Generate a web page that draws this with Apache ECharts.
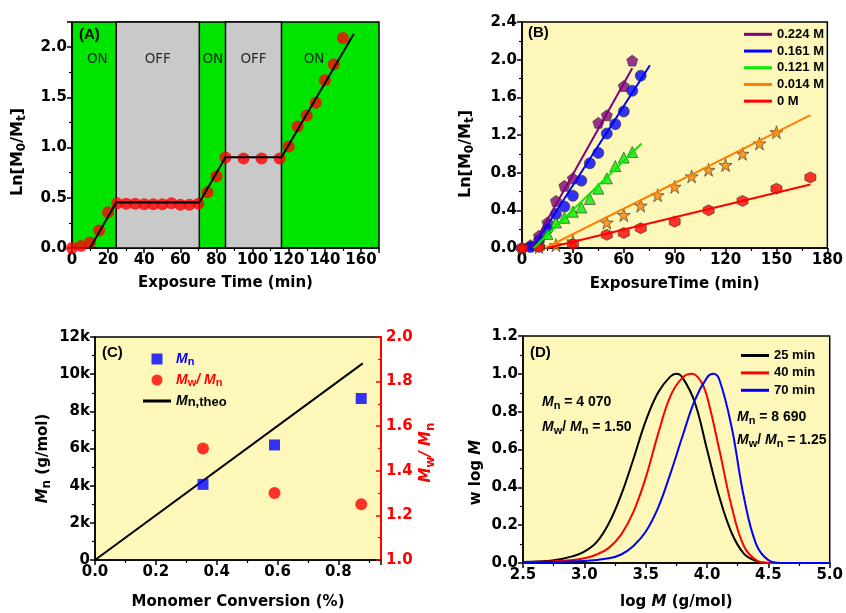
<!DOCTYPE html>
<html><head><meta charset="utf-8">
<script src="https://cdn.jsdelivr.net/npm/echarts@6/dist/echarts.min.js"></script>
<style>html,body{margin:0;padding:0;background:#fff}#c{width:846px;height:613px}</style>
</head><body><div id="c"></div>
<script>
// ---------- Panel A data ----------
const aTime = [0,5,10,15,20,25,30,35,40,45,50,55,60,65,70,75,80,85,95,105,115,120,125,130,135,140,145,150];
const aLn   = [0.00,0.02,0.055,0.175,0.355,0.445,0.44,0.44,0.435,0.435,0.435,0.445,0.43,0.43,0.44,0.555,0.715,0.90,0.89,0.89,0.89,1.01,1.21,1.32,1.445,1.67,1.83,2.09];
const aFitTime = [10,24.5,70.5,85,116,156];
const aFitLn   = [0,0.452,0.452,0.903,0.903,2.13];
const aOffStart = [24.5,85];
const aOffEnd   = [70.5,116];
const aPhaseText = ['ON','OFF','ON','OFF','ON'];
const aPhaseX    = [14,47.5,78,100.5,134];
const aPhaseY    = [1.88,1.88,1.88,1.88,1.88];
// ---------- Panel B data ----------
const bNames = ['0.224 M','0.161 M','0.121 M','0.014 M','0 M'];
const bT = [
  [0,5,10,15,20,25,30,45,50,60,65],
  [5,10,15,20,25,30,35,40,45,50,55,60,65,70],
  [10,15,20,25,30,35,40,45,50,55,60,65],
  [0,10,20,30,50,60,70,80,90,100,110,120,130,140,150],
  [0,10,30,50,60,70,90,110,130,150,170]
];
const bLn = [
  [0,0.03,0.13,0.27,0.50,0.66,0.74,1.33,1.41,1.72,1.99],
  [0.01,0.08,0.20,0.36,0.44,0.555,0.715,0.90,1.01,1.215,1.315,1.45,1.67,1.83],
  [0.04,0.15,0.27,0.32,0.385,0.43,0.52,0.63,0.74,0.87,0.96,1.02],
  [0,0.01,0.03,0.07,0.27,0.35,0.45,0.56,0.65,0.76,0.83,0.88,1.00,1.11,1.23],
  [0,0.01,0.04,0.14,0.16,0.21,0.28,0.40,0.50,0.63,0.75]
];
const bFitT  = [[5.7,65],[6.3,75.4],[6.8,70.5],[13.7,170],[15,170]];
const bFitLn = [[0,1.91],[0,1.94],[0,1.11],[0,1.41],[0,0.675]];
// ---------- Panel C data ----------
const cConv = [0.355,0.59,0.875];
const cMn   = [4070,6190,8690];
const cPdi  = [1.50,1.30,1.25];
const cTheoConv = [0,0.88];
const cTheoMn   = [0,10580];
// ---------- Panel D data ----------
const dNames = ['25 min','40 min','70 min'];
const dLogM = [
  [2.5,2.7,2.8,2.9,3.0,3.1,3.2,3.3,3.4,3.5,3.6,3.7,3.75,3.8,3.9,4.0,4.1,4.2,4.3,4.4,4.5,5.0],
  [2.5,2.8,3.0,3.1,3.2,3.3,3.4,3.5,3.6,3.7,3.8,3.88,3.95,4.0,4.1,4.2,4.3,4.4,4.5,5.0],
  [2.5,3.0,3.2,3.3,3.4,3.5,3.6,3.7,3.8,3.9,4.0,4.05,4.1,4.2,4.3,4.4,4.5,4.6,5.0]
];
const dW = [
  [0.005,0.01,0.02,0.035,0.06,0.11,0.21,0.36,0.55,0.75,0.90,0.985,1.0,0.98,0.85,0.60,0.35,0.16,0.05,0.01,0,0],
  [0.003,0.01,0.025,0.045,0.08,0.15,0.27,0.45,0.68,0.88,0.98,1.0,0.96,0.88,0.60,0.30,0.09,0.015,0,0],
  [0.002,0.01,0.025,0.045,0.09,0.165,0.29,0.47,0.67,0.86,0.98,1.0,0.97,0.72,0.35,0.10,0.015,0,0]
];

const zip = (a,b) => a.map((v,i)=>[v,b[i]]);
const TF = 'DejaVu Sans', LF = 'Liberation Sans';
const YEL = '#FDF8BA', GRN = '#00E500', GRY = '#C9C9C9';
const bColors = ['#800080','#0000FF','#00EE00','#FF8000','#FF0000'];
const bSymbols = [
  'path://M0,-1 L0.951,-0.309 L0.588,0.809 L-0.588,0.809 L-0.951,-0.309 Z',
  'circle','triangle',
  'path://M0,-1 L0.225,-0.309 L0.951,-0.309 L0.363,0.118 L0.588,0.809 L0,0.382 L-0.588,0.809 L-0.363,0.118 L-0.951,-0.309 L-0.225,-0.309 Z',
  'path://M0,-1 L0.866,-0.5 L0.866,0.5 L0,1 L-0.866,0.5 L-0.866,-0.5 Z'
];

function ax(o){
  const base = {
    type:'value', splitLine:{show:false},
    axisLine:{show:true, onZero:false, lineStyle:{color:'#000', width:1.5}},
    axisTick:{show:true, length:5, lineStyle:{color:'#000', width:1.5}},
    minorTick:{show:true, splitNumber:2, length:3, lineStyle:{color:'#000', width:1.2}},
    axisLabel:{fontFamily:TF, fontWeight:'bold', fontSize:15, color:'#000', margin:5, showMaxLabel:false},
    nameLocation:'middle',
    nameTextStyle:{fontFamily:TF, fontWeight:'bold', fontSize:15, color:'#000', lineHeight:20,
      rich:{ s:{fontFamily:TF, fontWeight:'bold', fontSize:12, verticalAlign:'bottom', lineHeight:13},
             i:{fontFamily:TF, fontWeight:'bold', fontStyle:'italic', fontSize:15, lineHeight:20} }}
  };
  return echarts.util.merge(base, o, true);
}
const f1 = v => v.toFixed(1);

const series = [];
// Panel A
series.push({type:'line', xAxisIndex:0, yAxisIndex:0, data:[], silent:true, z:1,
  markArea:{silent:true, itemStyle:{color:GRY, borderColor:'#000', borderWidth:1.5},
    data: aOffStart.map((s,i)=>[{xAxis:s},{xAxis:aOffEnd[i]}])}});
series.push({type:'scatter', xAxisIndex:0, yAxisIndex:0, data:zip(aTime,aLn), symbol:'circle', symbolSize:12,
  itemStyle:{color:'#FF0000'}, z:3});
series.push({type:'line', xAxisIndex:0, yAxisIndex:0, data:zip(aFitTime,aFitLn), symbol:'none',
  lineStyle:{color:'#000', width:2}, z:4});
series.push({type:'scatter', xAxisIndex:0, yAxisIndex:0, symbolSize:0, z:5,
  data: aPhaseX.map((x,i)=>({value:[x,aPhaseY[i]], name:aPhaseText[i]})),
  label:{show:true, position:'inside', formatter:p=>p.name, fontFamily:TF, fontSize:13.5, color:'#000'}});
// Panel B
bNames.forEach((n,k)=>{
  series.push({type:'scatter', name:'pts'+k, xAxisIndex:1, yAxisIndex:1, data:zip(bT[k],bLn[k]),
    symbol:bSymbols[k], symbolSize: k===3?13:11, itemStyle:{color:bColors[k], borderColor:'#333', borderWidth:0.8}, z:3});
  series.push({type:'line', name:n, xAxisIndex:1, yAxisIndex:1, data:zip(bFitT[k],bFitLn[k]), symbol:'none',
    lineStyle:{color:bColors[k], width:2}, itemStyle:{color:bColors[k]}, z:4});
});
// Panel C
series.push({type:'line', name:'Mntheo', xAxisIndex:2, yAxisIndex:2, data:zip(cTheoConv,cTheoMn), symbol:'none',
  lineStyle:{color:'#000', width:2}, itemStyle:{color:'#000'}, z:2});
series.push({type:'scatter', name:'Mn', xAxisIndex:2, yAxisIndex:2, data:zip(cConv,cMn), symbol:'rect', symbolSize:11,
  itemStyle:{color:'#0000FF'}, z:3});
series.push({type:'scatter', name:'MwMn', xAxisIndex:2, yAxisIndex:3, data:zip(cConv,cPdi), symbol:'circle', symbolSize:12,
  itemStyle:{color:'#FF0000'}, z:3});
// Panel D
const dColors = ['#000000','#FF0000','#0000FF'];
dNames.forEach((n,k)=>{
  series.push({type:'line', name:n, xAxisIndex:3, yAxisIndex:4, data:zip(dLogM[k],dW[k]), smooth:0.4, symbol:'none',
    lineStyle:{color:dColors[k], width:2}, itemStyle:{color:dColors[k]}});
});

const legText = {fontFamily:LF, fontWeight:'bold', fontSize:13, color:'#000'};
const richC = {
  bi:{fontFamily:LF, fontWeight:'bold', fontStyle:'italic', fontSize:14, color:'#0000FF', lineHeight:16},
  bs:{fontFamily:LF, fontWeight:'bold', fontSize:11, color:'#0000FF', verticalAlign:'bottom', lineHeight:11},
  ri:{fontFamily:LF, fontWeight:'bold', fontStyle:'italic', fontSize:14, color:'#FF0000', lineHeight:16},
  rs:{fontFamily:LF, fontWeight:'bold', fontSize:11, color:'#FF0000', verticalAlign:'bottom', lineHeight:11},
  rt:{fontFamily:LF, fontWeight:'bold', fontStyle:'italic', fontSize:14, color:'#FF0000', lineHeight:16},
  ki:{fontFamily:LF, fontWeight:'bold', fontStyle:'italic', fontSize:14, color:'#000', lineHeight:16},
  ks:{fontFamily:LF, fontWeight:'bold', fontSize:13, color:'#000', verticalAlign:'bottom', lineHeight:13}
};
const cLabels = {Mn:'{bi|M}{bs|n}', MwMn:'{ri|M}{rs|w}{rt|/ }{ri|M}{rs|n}', Mntheo:'{ki|M}{ks|n,theo}'};

const annRich = {
  i:{fontFamily:LF, fontWeight:'bold', fontStyle:'italic', fontSize:14, lineHeight:18},
  s:{fontFamily:LF, fontWeight:'bold', fontSize:11, verticalAlign:'bottom', lineHeight:11},
  t:{fontFamily:LF, fontWeight:'bold', fontSize:14, lineHeight:18}
};
function ann(x,y,txt){ return {type:'text', x:x, y:y, style:{text:txt, rich:annRich, fill:'#000', verticalAlign:'middle',
  fontFamily:LF, fontWeight:'bold', fontSize:14}}; }
function pl(x,y,txt){ return {type:'text', x:x, y:y, style:{text:txt, fill:'#000', verticalAlign:'middle',
  font:'bold 15px "Liberation Sans"'}}; }

const option = {
  animation:false,
  grid:[
    {left:72, top:22, width:307, height:226, show:true, backgroundColor:GRN, borderColor:'#000', borderWidth:1.5},
    {left:522, top:22, width:309, height:226, show:true, backgroundColor:YEL, borderColor:'#000', borderWidth:1.5},
    {left:95, top:337, width:286, height:228, show:true, backgroundColor:YEL, borderColor:'#000', borderWidth:1.5},
    {left:523, top:336, width:307, height:229, show:true, backgroundColor:YEL, borderColor:'#000', borderWidth:1.5}
  ],
  xAxis:[
    ax({gridIndex:0, min:0, max:170, interval:20, name:'Exposure Time (min)', nameGap:25}),
    ax({gridIndex:1, min:0, max:180, interval:30, name:'ExposureTime (min)', nameGap:26, axisLabel:{showMaxLabel:true}}),
    ax({gridIndex:2, min:0, max:0.94, interval:0.2, name:'Monomer Conversion (%)', nameGap:32, axisLabel:{formatter:f1}}),
    ax({gridIndex:3, min:2.5, max:5.0, interval:0.5, name:'log {i|M} (g/mol)', nameGap:29, axisLabel:{formatter:f1, showMaxLabel:true}})
  ],
  yAxis:[
    ax({gridIndex:0, min:0, max:2.25, interval:0.5, name:'Ln[M{s|0}/M{s|t}]', nameGap:44, axisLabel:{formatter:f1},
       nameTextStyle:{fontSize:16, padding:[0,34,0,0]}}),
    ax({gridIndex:1, min:0, max:2.4, interval:0.4, name:'Ln[M{s|0}/M{s|t}]', nameGap:46, axisLabel:{formatter:f1, showMaxLabel:true},
       nameTextStyle:{fontSize:16, padding:[0,38,0,0]}}),
    ax({gridIndex:2, min:0, max:12000, interval:2000, name:'{i|M}{s|n} (g/mol)', nameGap:42,
       axisLabel:{formatter:v=>v===0?'0':(v/1000)+'k', showMaxLabel:true}, nameTextStyle:{padding:[0,20,0,0]}}),
    ax({gridIndex:2, position:'right', min:1.0, max:2.0, interval:0.2, name:'{i|M}{s|w}{n|/ }{i|M}{s|n}', nameGap:25,
       axisLine:{lineStyle:{color:'#FF0000', width:2}},
       axisTick:{inside:true, lineStyle:{color:'#FF0000'}}, minorTick:{lineStyle:{color:'#FF0000'}},
       axisLabel:{formatter:f1, color:'#FF0000', showMaxLabel:true},
       nameTextStyle:{color:'#FF0000', padding:[0,8,0,0], rich:{i:{color:'#FF0000'}, s:{color:'#FF0000'}, n:{color:'#FF0000', fontStyle:'italic', fontFamily:TF, fontWeight:'bold', fontSize:15, lineHeight:20}}}}),
    ax({gridIndex:3, min:0, max:1.2, interval:0.2, name:'w log {i|M}', nameGap:37, axisLabel:{formatter:f1, showMaxLabel:true},
       nameTextStyle:{padding:[0,46,0,0]}})
  ],
  legend:[
    {left:739, top:22, orient:'vertical', itemWidth:28, itemHeight:3, itemGap:2, icon:'rect', textStyle:Object.assign({lineHeight:14.7}, legText),
     data:bNames},
    {left:138, top:347, orient:'vertical', itemWidth:28, itemHeight:11, itemGap:6, symbolKeepAspect:true,
     textStyle:{rich:richC, fontFamily:LF, fontWeight:'bold', fontSize:14},
     formatter:n=>cLabels[n],
     data:[{name:'Mn', icon:'path://M0,0h10v10h-10z'},{name:'MwMn', icon:'circle'},{name:'Mntheo', icon:'path://M0,0h28v3h-28z'}]},
    {left:736, top:343, orient:'vertical', itemWidth:28, itemHeight:3, itemGap:2.4, icon:'rect', textStyle:Object.assign({lineHeight:15}, legText),
     data:dNames}
  ],
  graphic:[
    pl(79,35,'(A)'), pl(528,33,'(B)'), pl(102,353,'(C)'), pl(530,353,'(D)'),
    ann(542,402,'{i|M}{s|n}{t| = 4 070}'), ann(542,427,'{i|M}{s|w}{t|/ }{i|M}{s|n}{t| = 1.50}'),
    ann(737,417,'{i|M}{s|n}{t| = 8 690}'), ann(737,440,'{i|M}{s|w}{t|/ }{i|M}{s|n}{t| = 1.25}')
  ],
  series:series
};
const chart = echarts.init(document.getElementById('c'), null, {renderer:'canvas'});
chart.setOption(option);
</script></body></html>
